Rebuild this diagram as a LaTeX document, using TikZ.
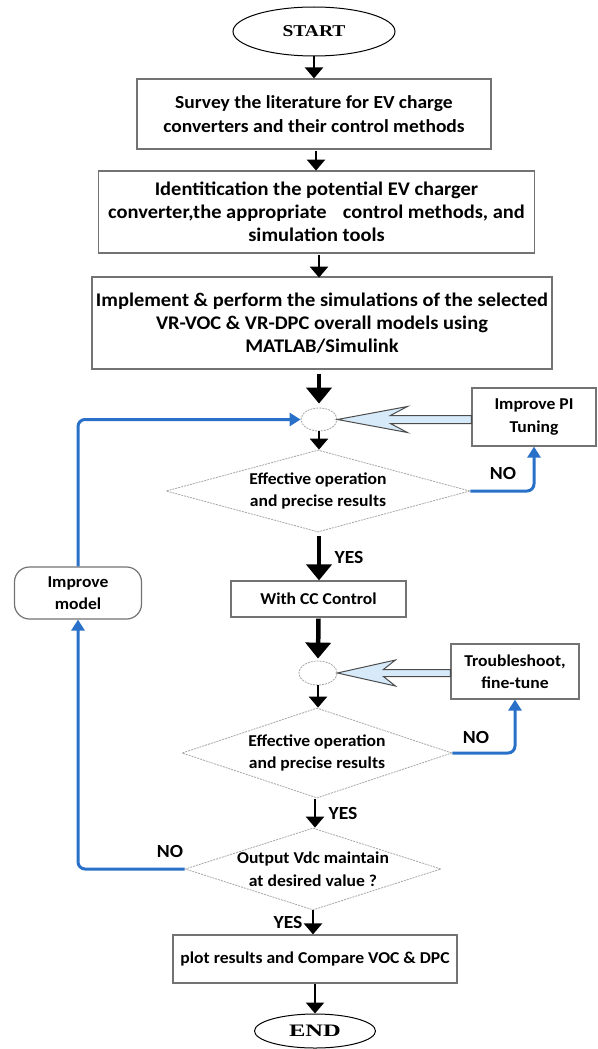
\documentclass[tikz,border=0pt]{standalone}
\usepackage{fontspec}
\setmainfont{Carlito}[FakeStretch=1.06]
\newfontfamily\startfont{Liberation Serif}[FakeStretch=1.18]
\newfontfamily\endfont{Liberation Serif}[FakeStretch=1.4]
\usetikzlibrary{shapes.geometric,arrows.meta,calc}
\definecolor{flowblue}{RGB}{40,112,200}
\definecolor{hollowfill}{RGB}{214,234,250}
\definecolor{boxline}{RGB}{115,115,115}
\begin{document}
\begin{tikzpicture}[x=1pt,y=-1pt,
  every node/.style={font=\bfseries\fontsize{16.6}{22.5}\selectfont, text=black},
  bigtext/.style={font=\bfseries\fontsize{19.3}{23}\selectfont},
  midtext/.style={font=\bfseries\fontsize{18.4}{23.3}\selectfont},
  procbox/.style={draw=boxline, line width=1.2pt, fill=white, align=center, inner sep=0pt},
  terminal/.style={ellipse, draw=black, line width=1pt, inner sep=0pt, fill=white},
  decision/.style={diamond, draw=gray!70, dash pattern=on 2pt off 1pt, line width=0.8pt,
    inner sep=-30pt, align=center, fill=white},
  junction/.style={ellipse, draw=gray!70, dash pattern=on 2pt off 1pt, line width=0.8pt, inner sep=0pt},
  flowarrow/.style={line width=2.5pt, -{Triangle[length=11pt,width=18pt]}},
  bigarrow/.style={line width=4.5pt, -{Triangle[length=16pt,width=25pt]}},
  loopline/.style={draw=flowblue, line width=3pt, rounded corners=7pt, -{Triangle[length=11pt,width=13pt]}},
  hollow/.style={draw=black!70, line width=1pt, fill=hollowfill, line join=miter},
  answer/.style={font=\bfseries\fontsize{18.5}{20}\selectfont}
]
\useasboundingbox (0,0) rectangle (597,1049);
\fill[white] (0,0) rectangle (597,1049);

\node[terminal, minimum width=162pt, minimum height=49pt, font=\startfont\bfseries\fontsize{16.5}{18}\selectfont] (start) at (314,31.5) {START};
\node[procbox, midtext, minimum width=354pt, minimum height=70pt] (b1) at (314,114)
  {Survey the literature for EV charge\\converters and their control methods};
\node[procbox, bigtext, minimum width=436pt, minimum height=82pt] (b2) at (316.5,212)
  {Identitication the potential EV charger\\converter,the appropriate\hspace{0.6em} control methods, and\\simulation tools};
\node[procbox, bigtext, minimum width=460pt, minimum height=92pt] (b3) at (322,323)
  {Implement \& perform the simulations of the selected\\VR-VOC \& VR-DPC overall models using\\MATLAB/Simulink};
\node[junction, minimum width=36pt, minimum height=23pt] (c1) at (319,419.5) {};
\node[procbox, minimum width=124pt, minimum height=58pt] (pi) at (534,417) {Improve PI\\Tuning};
\node[decision, minimum width=304pt, minimum height=82pt] (d1) at (318,491)
  {Effective operation\\and precise results};
\node[procbox, minimum width=175pt, minimum height=36pt] (cc) at (318.5,599) {With CC Control};
\node[procbox, rounded corners=15pt, minimum width=127pt, minimum height=52pt] (im) at (78,593) {Improve\\model};
\node[junction, minimum width=38pt, minimum height=24pt] (c2) at (318,673) {};
\node[procbox, minimum width=128pt, minimum height=55pt] (ts) at (515,671.5) {Troubleshoot,\\fine-tune};
\node[decision, minimum width=270pt, minimum height=90pt] (d2) at (317,753)
  {Effective operation\\and precise results};
\node[decision, minimum width=256pt, minimum height=82pt] (d3) at (313,869)
  {Output Vdc maintain\\at desired value ?};
\node[procbox, minimum width=284pt, minimum height=48pt] (pr) at (315,959) {plot results and Compare VOC \& DPC};
\node[terminal, minimum width=121pt, minimum height=34pt, font=\endfont\bfseries\fontsize{17.5}{18}\selectfont] (end) at (315,1031) {END};

% main flow arrows
\draw[flowarrow] (start.south) -- (start.south |- b1.north);
\draw[flowarrow] ($(b1.south)+(2,1)$) -- ($(b1.south)+(2,21)$);
\draw[flowarrow] ($(b2.south)+(2.5,1)$) -- ($(b2.south)+(2.5,24)$);
\draw[bigarrow] ($(b3.south |- c1.north)+(-3,-34)$) -- ($(c1.north)+(0,-4)$);
\draw[flowarrow] (c1.south) -- (c1.south |- d1.north);
\draw[bigarrow] ($(d1.south)+(1,4)$) -- ($(d1.south |- cc.north)+(1,0)$);
\draw[bigarrow] ($(cc.south)+(0,1)$) -- ($(c2.north)+(0,-2)$);
\draw[flowarrow] (c2.south) -- (c2.south |- d2.north);
\draw[flowarrow] ($(d2.south)+(-2,1)$) -- ($(d2.south |- d3.north)+(-2,0)$);
\draw[flowarrow] (d3.south) -- (d3.south |- pr.north);
\draw[flowarrow] (pr.south) -- (pr.south |- end.north);

% hollow feedback arrows
\path[hollow] (c1.east) -- ($(c1.east)+(70,-13)$) -- ($(c1.east)+(53,-4)$)
  -- ($(c1.east -| pi.west)+(0,-4)$) -- ($(c1.east -| pi.west)+(0,4)$)
  -- ($(c1.east)+(53,4)$) -- ($(c1.east)+(70,13)$) -- cycle;
\path[hollow] (c2.east) -- ($(c2.east)+(58,-13)$) -- ($(c2.east)+(46,-3.5)$)
  -- ($(c2.east -| ts.west)+(0,-3.5)$) -- ($(c2.east -| ts.west)+(0,3.5)$)
  -- ($(c2.east)+(46,3.5)$) -- ($(c2.east)+(58,13)$) -- cycle;

% blue loops
\draw[loopline] (im.north) |- (c1.west);
\draw[loopline] (d1.east) -| (pi.south);
\draw[loopline] (d2.east) -| (ts.south);
\draw[loopline] (d3.west) -| (im.south);

% labels
\node[answer] (yes1) at (349,557) {YES};
\node[answer] (no1) at (503,473) {NO};
\node[answer] (no2) at (476,737) {NO};
\node[answer] (yes2) at (343,813) {YES};
\node[answer] (no3) at (170,851) {NO};
\node[answer] (yes3) at (288,922) {YES};
\end{tikzpicture}
\end{document}
